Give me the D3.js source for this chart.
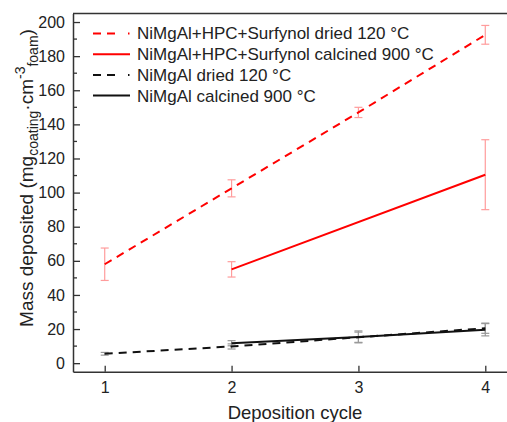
<!DOCTYPE html>
<html>
<head>
<meta charset="utf-8">
<script src="https://cdn.jsdelivr.net/npm/d3@7"></script>
<style>
  body { margin: 0; background: #fff; }
  text { font-family: "Liberation Sans", Arial, sans-serif; fill: #222; }
</style>
</head>
<body>
<script>
// series
var hpcDriedCycles = [1, 2, 3, 4];
var hpcDriedValues = [58, 102.5, 147, 192.5];
var hpcDriedErrors = [9.5, 5, 3, 5.5];

var hpcCalcCycles = [2, 4];
var hpcCalcValues = [55, 110.5];
var hpcCalcErrors = [4.5, 20.5];

var nimgalDriedCycles = [1, 2, 3, 4];
var nimgalDriedValues = [5.5, 9.8, 15.2, 20.5];
var nimgalDriedErrors = [0.8, 1.5, 3, 3];

var nimgalCalcCycles = [2, 3, 4];
var nimgalCalcValues = [11.7, 15.4, 19.6];
var nimgalCalcErrors = [1.5, 3.5, 3.6];

var xTicks = [1, 2, 3, 4];
var yTicks = [0, 20, 40, 60, 80, 100, 120, 140, 160, 180, 200];
var yMinorTicks = d3.range(10, 200, 20);

var legendLabels = [
    'NiMgAl+HPC+Surfynol dried 120 °C',
    'NiMgAl+HPC+Surfynol calcined 900 °C',
    'NiMgAl dried 120 °C',
    'NiMgAl calcined 900 °C'
];

function drawChart() {
    var width = 507, height = 422;
    var plotLeft = 73, plotTop = 13.5, plotRight = 517, plotBottom = 371.7;

    var x = d3.scaleLinear().domain([0.75, 4.25]).range([plotLeft, plotRight]);
    var y = d3.scaleLinear().domain([-5, 205]).range([plotBottom, plotTop]);

    function makeSeries(cycles, values, errors) {
        return cycles.map(function(c, i) {
            return {x: c, y: values[i], e: errors[i]};
        });
    }

    var series = [
        {data: makeSeries(hpcDriedCycles, hpcDriedValues, hpcDriedErrors), color: '#ff0000', err: '#ff9c9c', dash: '8,6'},
        {data: makeSeries(hpcCalcCycles, hpcCalcValues, hpcCalcErrors), color: '#ff0000', err: '#ff9c9c', dash: null},
        {data: makeSeries(nimgalDriedCycles, nimgalDriedValues, nimgalDriedErrors), color: '#111', err: '#999', dash: '8,6'},
        {data: makeSeries(nimgalCalcCycles, nimgalCalcValues, nimgalCalcErrors), color: '#111', err: '#999', dash: null}
    ];

    var svg = d3.select('body').append('svg')
        .attr('width', width)
        .attr('height', height);

    // frame: top line plus axes
    svg.append('line')
        .attr('x1', plotLeft).attr('x2', width + 10)
        .attr('y1', plotTop).attr('y2', plotTop)
        .attr('stroke', '#333').attr('stroke-width', 1.5);

    var xAxis = svg.append('g')
        .attr('transform', 'translate(0,' + plotBottom + ')')
        .call(d3.axisBottom(x).tickValues(xTicks).tickFormat(d3.format('d')).tickSizeInner(-6).tickSizeOuter(0).tickPadding(10));

    var yAxis = svg.append('g')
        .attr('transform', 'translate(' + plotLeft + ',0)')
        .call(d3.axisLeft(y).tickValues(yTicks).tickSizeInner(-7).tickSizeOuter(0).tickPadding(8));

    svg.append('g')
        .attr('transform', 'translate(' + plotLeft + ',0)')
        .selectAll('line')
        .data(yMinorTicks)
        .enter().append('line')
            .attr('x1', 0).attr('x2', 4)
            .attr('y1', function(d) { return y(d); })
            .attr('y2', function(d) { return y(d); })
            .attr('stroke', '#333').attr('stroke-width', 1.3);

    [xAxis, yAxis].forEach(function(g) {
        g.select('.domain').attr('stroke', '#333').attr('stroke-width', 1.5);
        g.selectAll('.tick line').attr('stroke', '#333').attr('stroke-width', 1.3);
        g.selectAll('.tick text')
            .attr('font-size', 16)
            .attr('font-family', '"Liberation Sans", Arial, sans-serif')
            .attr('fill', '#222');
    });

    // error bars
    series.forEach(function(s) {
        var g = svg.append('g').attr('stroke', s.err).attr('stroke-width', 1.2).attr('fill', 'none');
        s.data.forEach(function(d) {
            var cx = x(d.x), y1 = y(d.y - d.e), y2 = y(d.y + d.e);
            g.append('line').attr('x1', cx).attr('x2', cx).attr('y1', y1).attr('y2', y2);
            g.append('line').attr('x1', cx - 4).attr('x2', cx + 4).attr('y1', y1).attr('y2', y1);
            g.append('line').attr('x1', cx - 4).attr('x2', cx + 4).attr('y1', y2).attr('y2', y2);
        });
    });

    // lines
    var line = d3.line()
        .x(function(d) { return x(d.x); })
        .y(function(d) { return y(d.y); });

    series.forEach(function(s) {
        svg.append('path')
            .datum(s.data)
            .attr('d', line)
            .attr('fill', 'none')
            .attr('stroke', s.color)
            .attr('stroke-width', 2)
            .attr('stroke-dasharray', s.dash);
    });

    // legend
    var legend = svg.append('g');
    series.forEach(function(s, i) {
        var ly = 33.5 + i * 20.7;
        legend.append('line')
            .attr('x1', 93).attr('x2', 130)
            .attr('y1', ly).attr('y2', ly)
            .attr('stroke', s.color)
            .attr('stroke-width', 2)
            .attr('stroke-dasharray', s.dash ? '8,6,8,13,1.5,20' : null);
        legend.append('text')
            .attr('x', 137).attr('y', ly)
            .attr('dy', '0.35em')
            .attr('font-size', 17)
            .text(legendLabels[i]);
    });

    // axis titles
    svg.append('text')
        .attr('x', 295).attr('y', 413)
        .attr('dy', '0.35em')
        .attr('text-anchor', 'middle')
        .attr('font-size', 18.5)
        .text('Deposition cycle');

    var yTitle = svg.append('text')
        .attr('transform', 'translate(26,178) rotate(-90)')
        .attr('dy', '0.35em')
        .attr('text-anchor', 'middle')
        .attr('font-size', 19);
    yTitle.append('tspan').text('Mass deposited (mg');
    yTitle.append('tspan').attr('font-size', 14).attr('dy', 5).text('coating');
    yTitle.append('tspan').attr('dy', -5).text('·cm');
    yTitle.append('tspan').attr('font-size', 14).attr('dy', -8).text('-3');
    yTitle.append('tspan').attr('font-size', 14).attr('dy', 13).text('foam');
    yTitle.append('tspan').attr('dy', -5).text(')');
}

drawChart();
</script>
</body>
</html>
